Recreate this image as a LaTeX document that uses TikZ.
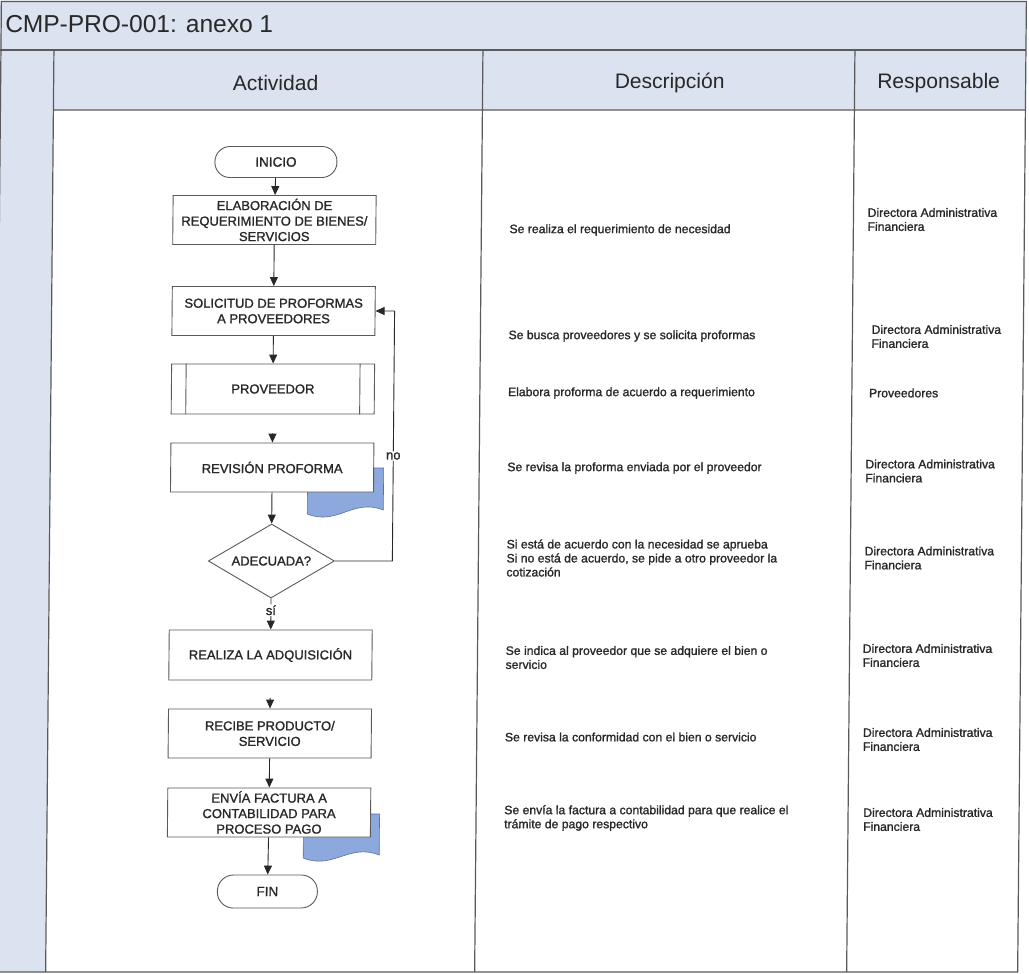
\documentclass[tikz,border=0pt]{standalone}
\usepackage{fontspec}
\setmainfont{Liberation Sans}
\newfontfamily\inkfont{Liberation Sans}[FakeBold=1.3]
\usetikzlibrary{arrows.meta,shapes.geometric,calc}

\definecolor{bandblue}{RGB}{219,226,240}
\definecolor{framegray}{RGB}{90,90,90}
\definecolor{docblue}{RGB}{141,168,220}
\definecolor{docedge}{RGB}{85,112,170}
\definecolor{inkgray}{RGB}{40,40,40}

\begin{document}
\begin{tikzpicture}[x=1pt,y=-1pt,
  every node/.style={text=inkgray},
  frame/.style={draw=framegray, line width=1.2pt},
  stepbox/.style={draw=framegray, line width=0.9pt, fill=white,
    minimum width=203pt, minimum height=49pt, inner sep=0pt, align=center,
    font=\inkfont\fontsize{13}{15.5}\selectfont},
  terminal/.style={draw=framegray, line width=0.9pt, fill=white,
    rounded corners=15pt, minimum height=31pt, inner sep=0pt,
    font=\inkfont\fontsize{13.5}{15}\selectfont},
  decision/.style={draw=framegray, line width=0.9pt, fill=white, diamond,
    aspect=1.7, minimum width=126pt, minimum height=74pt, inner sep=0pt,
    font=\inkfont\fontsize{13}{15}\selectfont},
  docshape/.style={fill=docblue, draw=docedge, line width=0.6pt},
  flow/.style={draw=inkgray, line width=0.9pt, -{Triangle[length=9pt,width=8pt]}},
  lbl/.style={fill=white, inner sep=1pt, font=\inkfont\fontsize{13}{14}\selectfont},
  headtext/.style={inner sep=0pt, font=\fontsize{21}{23}\selectfont},
  desc/.style={anchor=west, align=left, inner sep=0pt, font=\inkfont\fontsize{12.2}{14}\selectfont},
]
\useasboundingbox (0,0) rectangle (1029,974);
\fill[white] (0,0) rectangle (1029,974);

\begin{scope}[transform canvas={xshift=4.4pt, xslant=0.009}]

% table: title band, header row, side strip and columns
\fill[bandblue] (-14,1) rectangle (1022,972);
\fill[white] (50,110) rectangle (1022,972);
\draw[frame] (-3,1.5) rectangle (1022,972);
\draw[frame, line width=1.8pt] (-14,50) -- (1022,50);
\draw[frame] (50,110) -- (1022,110);
\draw[frame] (50,50) -- (50,972);
\draw[frame] (479,50) -- (479,972);
\draw[frame] (851,50) -- (851,972);

\node[anchor=base west, inner sep=0pt, font=\fontsize{24.5}{26}\selectfont] (title) at (1,33) {CMP-PRO-001: anexo 1};
\node[headtext] (hact) at (272,83) {Actividad};
\node[headtext] (hdesc) at (666,83) {Descripción};
\node[headtext] (hresp) at (935,83) {Responsable};

% documents behind the review and invoice steps
\path[docshape] (307.5,468) -- (383.5,468) -- (383.5,510)
  .. controls (353.1,498) and (337.9,526) .. (307.5,514) -- cycle;
\path[docshape] (306.5,814) -- (382.5,814) -- (382.5,855)
  .. controls (352.1,843) and (336.9,870) .. (306.5,858) -- cycle;

% flowchart
\node[terminal, minimum width=122pt] (inicio) at (273,162) {INICIO};
\node[stepbox] (elab) at (272,220) {ELABORACIÓN DE\\REQUERIMIENTO DE BIENES/\\SERVICIOS};
\node[stepbox] (sol) at (272,311) {SOLICITUD DE PROFORMAS\\A PROVEEDORES};
\node[stepbox, minimum height=50pt] (prov) at (272,389) {PROVEEDOR};
\draw[framegray, line width=0.9pt] ($(prov.north west)+(15,0)$) -- ($(prov.south west)+(15,0)$);
\draw[framegray, line width=0.9pt] ($(prov.north east)+(-15,0)$) -- ($(prov.south east)+(-15,0)$);
\node[stepbox] (rev) at (272,467.5) {REVISIÓN PROFORMA};
\node[decision] (dec) at (272,561) {ADECUADA?};
\node[stepbox, minimum height=50pt] (real) at (272,655) {REALIZA LA ADQUISICIÓN};
\node[stepbox] (rec) at (272,733.5) {RECIBE PRODUCTO/\\SERVICIO};
\node[stepbox] (env) at (272,812.5) {ENVÍA FACTURA A\\CONTABILIDAD PARA\\PROCESO PAGO};
\node[terminal, minimum width=100pt, minimum height=33pt, rounded corners=16pt] (fin) at (271,891.5) {FIN};

\coordinate (loopx) at (393,311);

\draw[flow] (inicio) -- (elab);
\draw[flow] (elab) -- (sol);
\draw[flow] (sol) -- (prov);
\draw[flow, shorten <=19pt] (prov) -- (rev);
\draw[flow] (rev) -- (dec);
\draw[flow] (dec.south) -- node[lbl, pos=0.38] {sí} (real.north);
\draw[flow, shorten <=17.5pt] (real) -- (rec);
\draw[flow] (rec) -- (env);
\draw[flow] (env) -- (fin);
\draw[flow] (dec.east) -| node[lbl, pos=0.71] {no} (loopx) -- (sol.east);

% descriptions
\node[desc] (d1) at (507,230) {Se realiza el requerimiento de necesidad};
\node[desc] (d2) at (507,336) {Se busca proveedores y se solicita proformas};
\node[desc] (d3) at (507,393) {Elabora proforma de acuerdo a requerimiento};
\node[desc] (d4) at (507,468) {Se revisa la proforma enviada por el proveedor};
\node[desc] (d5) at (507,558) {Si está de acuerdo con la necesidad se aprueba\\Si no está de acuerdo, se pide a otro proveedor la\\cotización};
\node[desc] (d6) at (507,657.5) {Se indica al proveedor que se adquiere el bien o\\servicio};
\node[desc] (d7) at (507,737) {Se revisa la conformidad con el bien o servicio};
\node[desc] (d8) at (507,818) {Se envía la factura a contabilidad para que realice el\\trámite de pago respectivo};

% responsible roles
\node[desc] (r1) at (865,219.5) {Directora Administrativa\\Financiera};
\node[desc] (r2) at (870,336.5) {Directora Administrativa\\Financiera};
\node[desc] (r3) at (868,393) {Proveedores};
\node[desc] (r4) at (865,471) {Directora Administrativa\\Financiera};
\node[desc] (r5) at (865,558) {Directora Administrativa\\Financiera};
\node[desc] (r6) at (864,655.5) {Directora Administrativa\\Financiera};
\node[desc] (r7) at (865,739.5) {Directora Administrativa\\Financiera};
\node[desc] (r8) at (866,819.5) {Directora Administrativa\\Financiera};

\end{scope}
\end{tikzpicture}
\end{document}
